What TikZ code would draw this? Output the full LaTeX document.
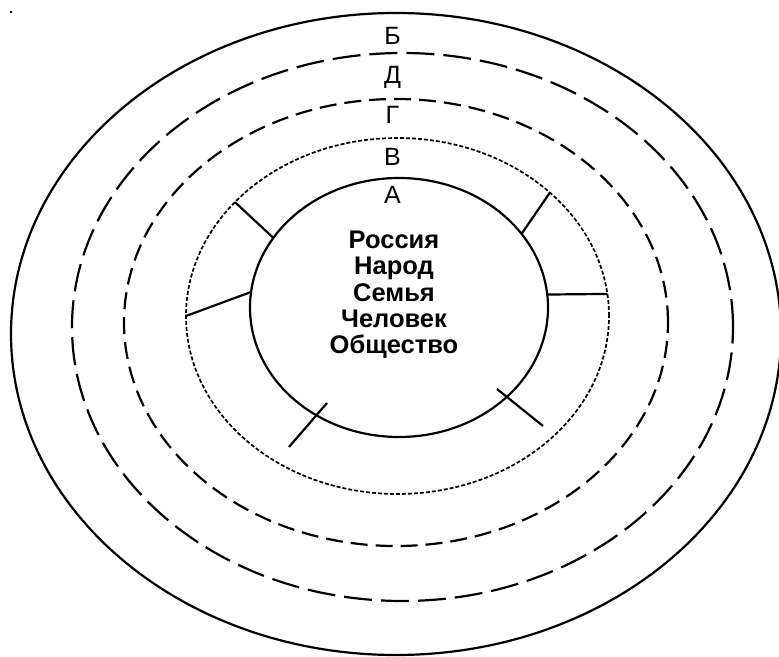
\documentclass[tikz,border=0pt]{standalone}
\usepackage{fontspec}
\setmainfont{Liberation Sans}
\usetikzlibrary{shapes.geometric}

\begin{document}
\begin{tikzpicture}[
  x=1pt, y=1pt,
  ring/.style={ellipse, draw=black, inner sep=0pt, outer sep=0pt},
  solidring/.style={ring, line width=2.2pt},
  longring/.style={ring, line width=2.2pt, dash pattern=on 28pt off 9pt},
  shortring/.style={ring, line width=2.2pt, dash pattern=on 17pt off 8pt},
  dotring/.style={ring, line width=1.7pt, dash pattern=on 4pt off 2pt},
  spoke/.style={line width=2.2pt},
  lbl/.style={anchor=base, font=\fontsize{25}{26}\selectfont},
  words/.style={align=center, font=\fontsize{25.5}{26.3}\selectfont\bfseries}
]
\useasboundingbox (0,0) rectangle (779,656);
\fill (11,644) circle (1.3);

\node[solidring, minimum width=770pt, minimum height=642pt] (B) at (396,322) {};
\node[longring, minimum width=661pt, minimum height=548pt] (D) at (402.5,329) {};
\node[shortring, minimum width=544pt, minimum height=447pt] (G) at (396,333.5) {};
\node[dotring, minimum width=423pt, minimum height=356pt] (V) at (397.5,340) {};
\node[solidring, minimum width=298pt, minimum height=259pt] (A) at (399,348.5) {};

\node[lbl] (lB) at (392.5,611) {Б};
\node[lbl] (lD) at (392.5,572) {Д};
\node[lbl] (lG) at (392.5,532) {Г};
\node[lbl] (lV) at (392.5,490) {В};
\node[lbl] (lA) at (392.5,452) {А};

\node[words] (W) at (394,361) {Россия\\Народ\\Семья\\Человек\\Общество};

\draw[spoke] (A.151.3) -- (V.145.4);
\draw[spoke] (A.174.4) -- (V.180.5);
\draw[spoke] (A.31.3) -- (V.39.2);
\draw[spoke] (A.5.6) -- (V.6.2);

\coordinate (r1) at (497,267);
\coordinate (r2) at (543,230);
\coordinate (l1) at (327,253);
\coordinate (l2) at (289,209);
\draw[spoke] (r1) -- (r2);
\draw[spoke] (l1) -- (l2);
\end{tikzpicture}
\end{document}
